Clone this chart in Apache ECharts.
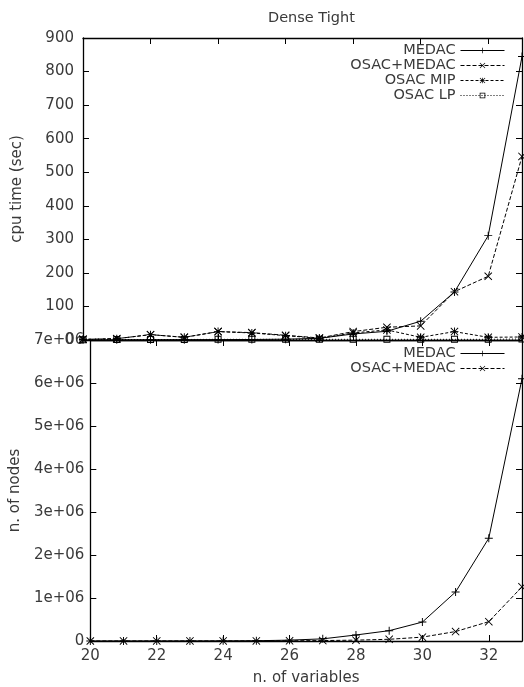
<!DOCTYPE html>
<html>
<head>
<meta charset="utf-8">
<script src="https://cdn.jsdelivr.net/npm/echarts@6/dist/echarts.min.js"></script>
<style>
  html, body { margin: 0; padding: 0; background: #fff; }
  #chart { width: 524px; height: 687px; }
</style>
</head>
<body>
<div id="chart"></div>
<script>
(function () {
    'use strict';

    // n. of variables
    var vars = [20, 21, 22, 23, 24, 25, 26, 27, 28, 29, 30, 31, 32, 33];

    // cpu time (sec)
    var timeMedac     = [0.5, 0.6, 0.8, 1, 1.2, 1.5, 2.5, 5, 18, 26, 56, 143, 311, 845];
    var timeOsacMedac = [2, 4, 16, 8, 25, 22, 14, 6, 25, 38, 42, 144, 190, 547];
    var timeOsacMip   = [2, 4, 16, 8, 25, 21, 13, 5, 21, 30, 8, 25, 8, 9];
    var timeOsacLp    = [1, 1.5, 1.5, 1.5, 2, 2, 2, 2, 2, 2, 2, 2, 2, 3];

    // n. of nodes
    var nodesMedac     = [500, 800, 1200, 1800, 3000, 6000, 20000, 50000, 140000, 240000, 440000, 1140000, 2390000, 6100000];
    var nodesOsacMedac = [300, 500, 700, 1000, 1500, 2500, 5000, 10000, 20000, 40000, 90000, 220000, 450000, 1260000];

    var font = 'DejaVu Sans';
    var txt = '#3a3a3a';

    // gnuplot-like point types
    var PLUS = 'path://M4.4,0H5.6V4.4H10V5.6H5.6V10H4.4V5.6H0V4.4H4.4Z';
    var CROSS = 'path://M0,0.8L0.8,0L5,4.2L9.2,0L10,0.8L5.8,5L10,9.2L9.2,10L5,5.8L0.8,10L0,9.2L4.2,5Z';
    var STAR = 'path://M4.4,0H5.6V4.4H10V5.6H5.6V10H4.4V5.6H0V4.4H4.4Z' +
               'M0,0.8L0.8,0L5,4.2L9.2,0L10,0.8L5.8,5L10,9.2L9.2,10L5,5.8L0.8,10L0,9.2L4.2,5Z';
    var BOX = 'path://M0,0H10V10H0Z M1.4,1.4V8.6H8.6V1.4Z';

    function pts(arr) {
        return vars.map(function (v, i) { return [v, arr[i]]; });
    }

    function line(name, arr, xi, yi, symbol, dash) {
        return {
            name: name,
            type: 'line',
            xAxisIndex: xi,
            yAxisIndex: yi,
            data: pts(arr),
            symbol: symbol,
            symbolSize: symbol === BOX ? 7 : 8,
            showSymbol: true,
            lineStyle: { color: '#000', width: 1, type: dash },
            itemStyle: { color: '#000' },
            emphasis: { disabled: true },
            animation: false
        };
    }

    var axisLine = { show: true, onZero: false, lineStyle: { color: '#000', width: 1.3 } };
    var tick = { show: true, inside: true, length: 6, lineStyle: { color: '#000' } };
    var label = { color: txt, fontFamily: font, fontSize: 15 };

    function xAx(gi, pos, showLabel, name) {
        return {
            type: 'value', gridIndex: gi, position: pos,
            min: 20, max: 33, interval: 2,
            axisLine: axisLine, axisTick: tick, splitLine: { show: false },
            axisLabel: Object.assign({ show: showLabel, margin: 8, showMaxLabel: false }, label),
            name: name || '', nameLocation: 'middle', nameGap: 30,
            nameTextStyle: label
        };
    }

    function yAx(gi, pos, max, interval, showLabel, fmt, margin, name) {
        return {
            type: 'value', gridIndex: gi, position: pos,
            min: 0, max: max, interval: interval,
            axisLine: axisLine, axisTick: tick, splitLine: { show: false },
            axisLabel: Object.assign({ show: showLabel, margin: margin || 6, formatter: fmt }, label),
            name: name || '', nameLocation: 'middle', nameGap: 58,
            nameTextStyle: label
        };
    }

    var legendBase = {
        orient: 'vertical', align: 'right', right: 19, padding: 0,
        itemWidth: 44, itemHeight: 7, itemGap: 0,
        selectedMode: false,
        lineStyle: { width: 1 },
        textStyle: { color: txt, fontFamily: font, fontSize: 14.5, lineHeight: 14.7 }
    };

    var option = {
        backgroundColor: '#fff',
        title: {
            text: 'Dense Tight', left: 263, top: 6,
            textStyle: { color: txt, fontFamily: font, fontSize: 14.5, fontWeight: 'normal' }
        },
        legend: [
            Object.assign({ top: 43, data: ['MEDAC', 'OSAC+MEDAC', 'OSAC MIP', 'OSAC LP'] }, legendBase),
            Object.assign({ top: 346, data: ['MEDAC', 'OSAC+MEDAC'] }, legendBase)
        ],
        grid: [
            { left: 83, right: 2, top: 38, height: 302 },
            { left: 83, right: 2, top: 340, height: 301 }
        ],
        xAxis: [
            xAx(0, 'bottom', false),
            xAx(0, 'top', false),
            xAx(1, 'bottom', true, 'n. of variables'),
            xAx(1, 'top', false)
        ],
        yAxis: [
            yAx(0, 'left', 900, 100, true, null, 9, 'cpu time (sec)'),
            yAx(0, 'right', 900, 100, false),
            yAx(1, 'left', 7e6, 1e6, true, function (v) {
                return v === 0 ? '0' : (v / 1e6) + 'e+06';
            }, 6, 'n. of nodes'),
            yAx(1, 'right', 7e6, 1e6, false)
        ],
        series: [
            line('MEDAC', timeMedac, 0, 0, PLUS, 'solid'),
            line('OSAC+MEDAC', timeOsacMedac, 0, 0, CROSS, [4, 2]),
            line('OSAC MIP', timeOsacMip, 0, 0, STAR, [3, 2]),
            line('OSAC LP', timeOsacLp, 0, 0, BOX, [1, 2]),
            line('MEDAC', nodesMedac, 2, 2, PLUS, 'solid'),
            line('OSAC+MEDAC', nodesOsacMedac, 2, 2, CROSS, [4, 2])
        ]
    };

    var chart = echarts.init(document.getElementById('chart'), null, { renderer: 'canvas' });
    chart.setOption(option);
})();
</script>
</body>
</html>
